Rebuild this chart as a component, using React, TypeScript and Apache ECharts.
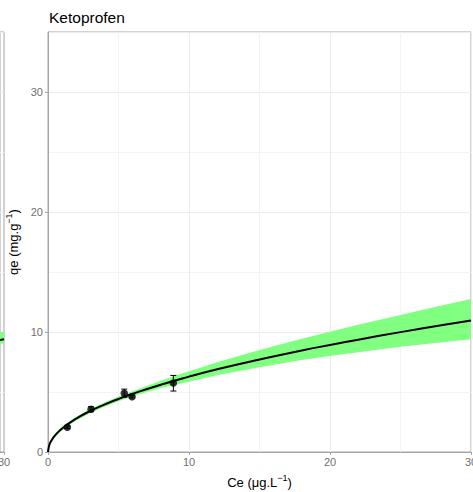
import React, { useEffect, useRef } from "react";
import * as echarts from "echarts";

// Observed points (Ce, qe) with error bars
const obsCe = [1.37, 3.05, 5.41, 5.96, 8.89];
const obsQe = [2.06, 3.56, 4.89, 4.61, 5.75];
const obsLow = [1.96, 3.36, 4.56, 4.51, 5.08];
const obsHigh = [2.16, 3.77, 5.24, 4.71, 6.38];

// Fitted curve and confidence band
const fitCe = [0, 0.1, 0.25, 0.5, 1, 2, 3, 4, 5, 6, 8, 10, 12, 15, 18, 20, 22, 25, 28, 30];
const fitQe = [0, 0.61, 0.97, 1.38, 1.96, 2.78, 3.42, 3.95, 4.42, 4.85, 5.61, 6.28, 6.89, 7.71, 8.46, 8.92, 9.36, 9.99, 10.58, 10.95];
const fitLow = [0, 0.52, 0.86, 1.25, 1.82, 2.63, 3.26, 3.77, 4.22, 4.64, 5.34, 5.86, 6.39, 7.06, 7.66, 8.0, 8.32, 8.77, 9.15, 9.39];
const fitHigh = [0, 0.7, 1.08, 1.51, 2.1, 2.94, 3.59, 4.13, 4.62, 5.07, 5.93, 6.73, 7.47, 8.49, 9.44, 10.03, 10.6, 11.42, 12.23, 12.75];

// Neighbouring (cut-off) panel on the left: only its right edge is visible
const prevCe = [29.8, 30];
const prevQe = [9.33, 9.39];
const prevLow = [9.0, 9.06];
const prevHigh = [9.97, 10.03];

const xTicks = [0, 10, 20, 30];
const yTicks = [0, 10, 20, 30];
const prevXTicks = [30];

const FONT = "'Liberation Sans', Arial, sans-serif";
const BAND = "#80FF80";
const FRAME = "#A6A6A6";

function bandSeries(xs: number[], lo: number[], hi: number[], idx: number) {
  return {
    type: "custom",
    xAxisIndex: idx,
    yAxisIndex: idx,
    clip: true,
    silent: true,
    data: [[0]],
    renderItem: (_p: any, api: any) => {
      const pts: number[][] = [];
      for (let i = 0; i < xs.length; i++) pts.push(api.coord([xs[i], hi[i]]));
      for (let i = xs.length - 1; i >= 0; i--) pts.push(api.coord([xs[i], lo[i]]));
      return { type: "polygon", shape: { points: pts }, style: { fill: BAND, stroke: null } };
    },
    z: 1,
  };
}

function lineSeries(xs: number[], ys: number[], idx: number) {
  return {
    type: "line",
    xAxisIndex: idx,
    yAxisIndex: idx,
    data: xs.map((x, i) => [x, ys[i]]),
    showSymbol: false,
    symbol: "none",
    smooth: true,
    lineStyle: { color: "#000", width: 2 },
    clip: true,
    silent: true,
    z: 2,
  };
}

const labelStyle = { color: "#707070", fontSize: 11, fontFamily: FONT };
const supRich = { sup: { fontSize: 9, fontFamily: FONT, color: "#000", padding: [0, 0, 9, 0] } };

export default function App() {
  const ref = useRef<HTMLDivElement>(null);
  useEffect(() => {
    if (!ref.current) return;
    const chart = echarts.init(ref.current, undefined, { renderer: "svg" });
    chart.setOption({
      animation: false,
      backgroundColor: "#fff",
      title: {
        text: "Ketoprofen",
        left: 49,
        top: 9,
        padding: 0,
        textStyle: { color: "#000", fontSize: 15.5, fontWeight: "normal", fontFamily: FONT },
      },
      grid: [
        { left: 48, right: 2, top: 32, bottom: 40, show: true, borderColor: FRAME, borderWidth: 1, backgroundColor: "transparent", containLabel: false, outerBoundsMode: "none" },
        { left: 0, right: 469, top: 32, bottom: 40, show: true, borderColor: FRAME, borderWidth: 1, backgroundColor: "transparent", containLabel: false, outerBoundsMode: "none" },
      ],
      xAxis: [
        {
          type: "value",
          gridIndex: 0,
          min: 0,
          max: 30,
          interval: 10,
          minorTick: { show: false, splitNumber: 2 },
          minorSplitLine: { show: true, lineStyle: { color: "#F3F3F3", width: 1 } },
          splitLine: { show: true, lineStyle: { color: "#EBEBEB", width: 1 } },
          axisLine: { show: true, lineStyle: { color: FRAME, width: 1 } },
          axisTick: { show: true, length: 3, lineStyle: { color: FRAME } },
          axisLabel: { ...labelStyle, margin: 4, formatter: (v: number) => (xTicks.includes(v) ? String(v) : "") },
          name: "Ce (μg.L{sup|−1})",
          nameLocation: "middle",
          nameGap: 21,
          nameTextStyle: { color: "#000", fontSize: 13, fontFamily: FONT, rich: supRich },
        },
        {
          type: "value",
          gridIndex: 1,
          min: 29.8,
          max: 30,
          splitLine: { show: false },
          axisLine: { show: true, lineStyle: { color: FRAME, width: 1 } },
          axisTick: { show: true, length: 3, lineStyle: { color: FRAME }, customValues: prevXTicks },
          axisLabel: { ...labelStyle, margin: 4, customValues: prevXTicks, formatter: (v: number) => String(v) },
        },
      ],
      yAxis: [
        {
          type: "value",
          gridIndex: 0,
          min: 0,
          max: 35,
          interval: 10,
          minorTick: { show: false, splitNumber: 2 },
          minorSplitLine: { show: true, lineStyle: { color: "#F3F3F3", width: 1 } },
          splitLine: { show: true, lineStyle: { color: "#EBEBEB", width: 1 } },
          axisLine: { show: true, lineStyle: { color: FRAME, width: 1 } },
          axisTick: { show: true, length: 3, lineStyle: { color: FRAME } },
          axisLabel: { ...labelStyle, margin: 5, showMaxLabel: false, formatter: (v: number) => (yTicks.includes(v) ? String(v) : "") },
          name: "qe (mg.g{sup|−1})",
          nameLocation: "middle",
          nameRotate: 90,
          nameGap: 22,
          nameTextStyle: { color: "#000", fontSize: 13, fontFamily: FONT, rich: supRich },
        },
        {
          type: "value",
          gridIndex: 1,
          min: 0,
          max: 35,
          interval: 10,
          minorTick: { show: false, splitNumber: 2 },
          minorSplitLine: { show: true, lineStyle: { color: "#F3F3F3", width: 1 } },
          splitLine: { show: true, lineStyle: { color: "#EBEBEB", width: 1 } },
          axisLine: { show: false },
          axisTick: { show: false },
          axisLabel: { show: false },
        },
      ],
      series: [
        bandSeries(fitCe, fitLow, fitHigh, 0),
        lineSeries(fitCe, fitQe, 0),
        {
          type: "custom",
          xAxisIndex: 0,
          yAxisIndex: 0,
          data: obsCe.map((x, i) => [x, obsLow[i], obsHigh[i]]),
          renderItem: (_p: any, api: any) => {
            const lo = api.coord([api.value(0), api.value(1)]);
            const hi = api.coord([api.value(0), api.value(2)]);
            const w = 3;
            const st = { stroke: "#000", lineWidth: 1 };
            return {
              type: "group",
              children: [
                { type: "line", shape: { x1: hi[0], y1: hi[1], x2: lo[0], y2: lo[1] }, style: st },
                { type: "line", shape: { x1: hi[0] - w, y1: hi[1], x2: hi[0] + w, y2: hi[1] }, style: st },
                { type: "line", shape: { x1: lo[0] - w, y1: lo[1], x2: lo[0] + w, y2: lo[1] }, style: st },
              ],
            };
          },
          z: 3,
          silent: true,
        },
        {
          type: "scatter",
          xAxisIndex: 0,
          yAxisIndex: 0,
          data: obsCe.map((x, i) => [x, obsQe[i]]),
          symbol: "circle",
          symbolSize: 7.5,
          itemStyle: { color: "#000" },
          z: 4,
          silent: true,
        },
        bandSeries(prevCe, prevLow, prevHigh, 1),
        lineSeries(prevCe, prevQe, 1),
      ],
    });
    return () => chart.dispose();
  }, []);
  return <div ref={ref} style={{ width: 473, height: 492, position: "absolute", left: 0, top: 0 }} />;
}
